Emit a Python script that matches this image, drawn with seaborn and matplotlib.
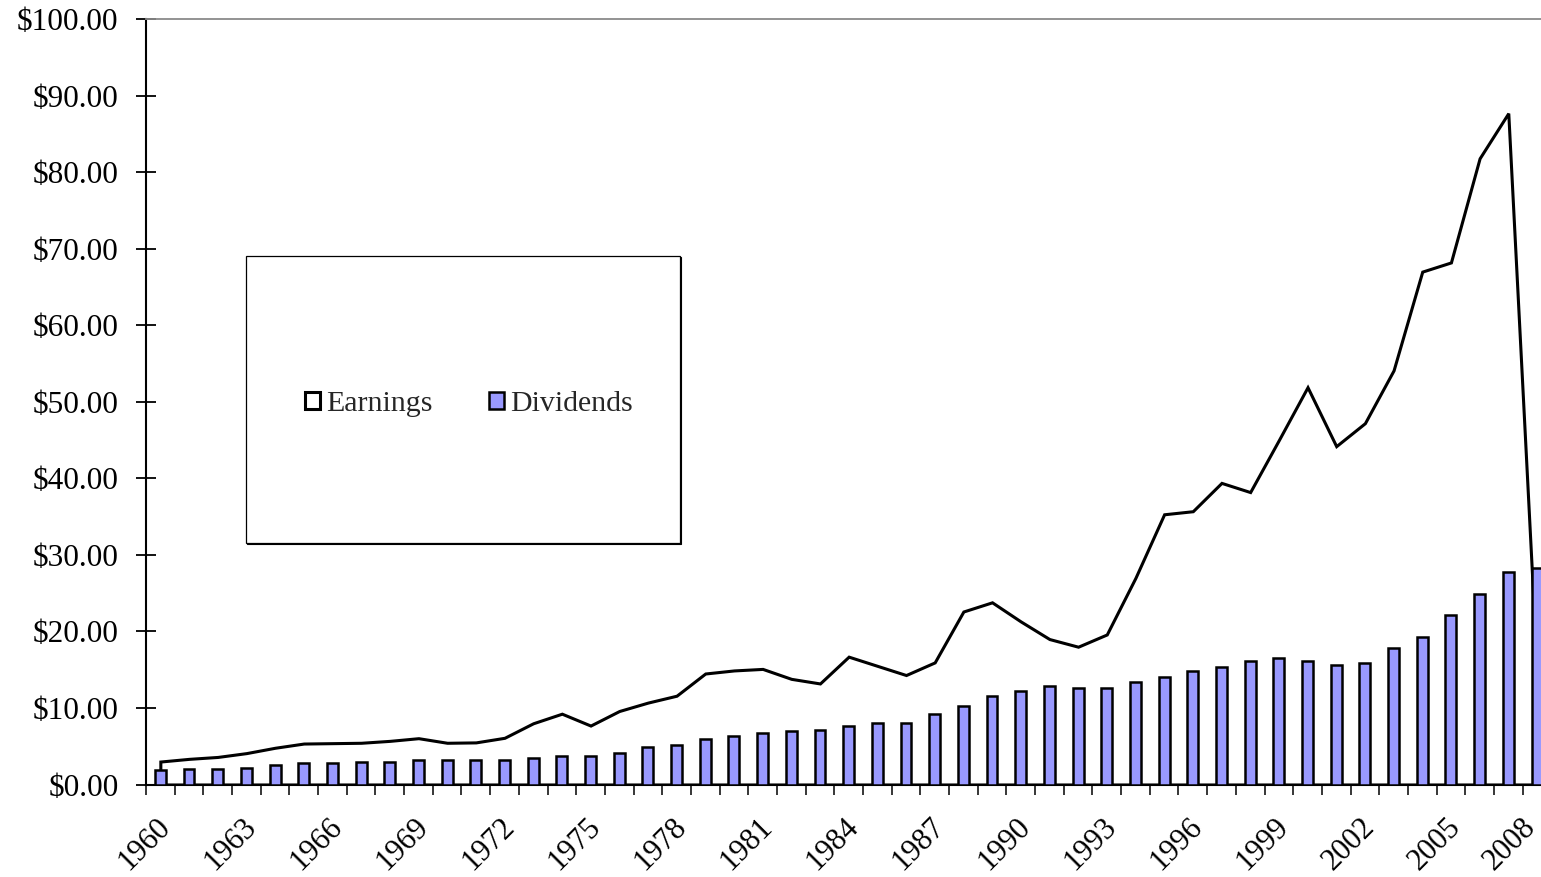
import numpy as np
import pandas as pd
import matplotlib
matplotlib.use("Agg")
import matplotlib.pyplot as plt
import matplotlib.transforms as mtransforms
from matplotlib.patches import Rectangle
import seaborn as sns

# Per-share earnings and dividends, 1960-2008
years = list(range(1960, 2009))
earnings = [3.0, 3.35, 3.6, 4.1, 4.8, 5.35, 5.4, 5.45, 5.7, 6.05,
            5.45, 5.5, 6.1, 8.0, 9.25, 7.7, 9.6, 10.7, 11.6, 14.5,
            14.9, 15.1, 13.8, 13.2, 16.7, 15.5, 14.3, 15.95, 22.6, 23.8,
            21.3, 19.0, 18.0, 19.6, 27.0, 35.3, 35.7, 39.4, 38.2, 45.0,
            51.9, 44.2, 47.2, 54.1, 67.0, 68.2, 81.8, 87.7, 14.9]
dividends = [1.9, 2.0, 2.0, 2.2, 2.6, 2.8, 2.8, 3.0, 3.0, 3.2,
             3.2, 3.2, 3.2, 3.5, 3.7, 3.7, 4.1, 4.9, 5.1, 6.0,
             6.4, 6.7, 7.0, 7.1, 7.7, 8.0, 8.0, 9.2, 10.2, 11.6,
             12.2, 12.9, 12.6, 12.6, 13.4, 14.1, 14.8, 15.4, 16.1, 16.5,
             16.1, 15.6, 15.9, 17.8, 19.3, 22.1, 24.9, 27.8, 28.3]
y_ticks = list(range(0, 101, 10))
label_years = years[::3]

df = pd.DataFrame({"year": [str(y) for y in years],
                   "earnings": earnings, "dividends": dividends})

sns.set_theme(style="white")
plt.rcParams["font.family"] = ["Liberation Serif", "DejaVu Serif"]

W, H = 1541, 877
fig = plt.figure(figsize=(W / 100, H / 100), dpi=100)
fig.patch.set_facecolor("white")
ax = fig.add_axes([146 / W, 92.5 / H, 1405.3 / W, 765.5 / H])
ax.set_facecolor("white")

# Earnings as a white area with a black outline, behind the columns
xpos = np.arange(len(years))
area = ax.fill_between(xpos, df["earnings"], 0, facecolor="white",
                       edgecolor="black", linewidth=2.2, zorder=2,
                       joinstyle="miter")

# Dividends as columns
sns.barplot(data=df, x="year", y="dividends", ax=ax, color="#9999FF",
            saturation=1, width=0.38, edgecolor="black", linewidth=1.8,
            zorder=3, errorbar=None)
bars = ax.containers[-1]

ax.set_xlim(-0.5, len(years) - 0.5)
ax.set_ylim(0, 100)
ax.set_xlabel("")
ax.set_ylabel("")

# Y axis
ax.set_yticks(y_ticks)
ax.set_yticklabels([f"${v:.2f}" for v in y_ticks])
ax.tick_params(axis="y", direction="inout", length=13.7, width=1.3,
               pad=13, labelsize=22.5, colors="black", left=True)

# X axis: tick marks between categories, labels every third year
ax.set_xticks([years.index(y) for y in label_years])
ax.set_xticklabels([str(y) for y in label_years], rotation=45,
                   ha="right", va="top", rotation_mode="anchor")
ax.set_xticks(np.arange(-0.5, len(years), 1.0), minor=True)
ax.tick_params(axis="x", which="major", length=0, pad=20, labelsize=22,
               colors="black", bottom=True)
ax.tick_params(axis="x", which="minor", direction="inout", length=13.7,
               width=1.1, color="black", bottom=True)
xlabels = ax.get_xticklabels()
for i, lbl in enumerate(xlabels):
    dx = -5 if i < len(xlabels) - 1 else -16   # keep the last year inside the figure
    shift = mtransforms.ScaledTranslation(dx / 100, 0, fig.dpi_scale_trans)
    lbl.set_transform(lbl.get_transform() + shift)

# Frame
ax.spines["left"].set_color("black")
ax.spines["left"].set_linewidth(1.5)
ax.spines["bottom"].set_color("black")
ax.spines["bottom"].set_linewidth(1.5)
ax.spines["top"].set_color("#8a8a8a")
ax.spines["top"].set_linewidth(1.3)
ax.spines["right"].set_color("#8a8a8a")
ax.spines["right"].set_linewidth(1.3)

# Legend box with a drop shadow
bx, by, bw, bh = 0.0712, 0.3159, 0.3088, 0.3747
shadow_tr = ax.transAxes + mtransforms.ScaledTranslation(1.3 / 100, -1.3 / 100,
                                                          fig.dpi_scale_trans)
ax.add_patch(Rectangle((bx, by), bw, bh, transform=shadow_tr,
                       facecolor="black", edgecolor="black", linewidth=0.8,
                       zorder=5, clip_on=False))
ax.add_patch(Rectangle((bx, by), bw, bh, transform=ax.transAxes,
                       facecolor="white", edgecolor="black", linewidth=0.9,
                       zorder=5.1, clip_on=False))
leg = ax.legend(handles=[area, bars], labels=["Earnings", "Dividends"],
                loc="center", bbox_to_anchor=(0.2298, 0.4975), ncol=2,
                frameon=False, fontsize=21.5, handlelength=0.5,
                handleheight=0.5, handletextpad=0.2, columnspacing=1.9)
leg.set_zorder(6)

fig.savefig("out.png", dpi=100, facecolor="white")
